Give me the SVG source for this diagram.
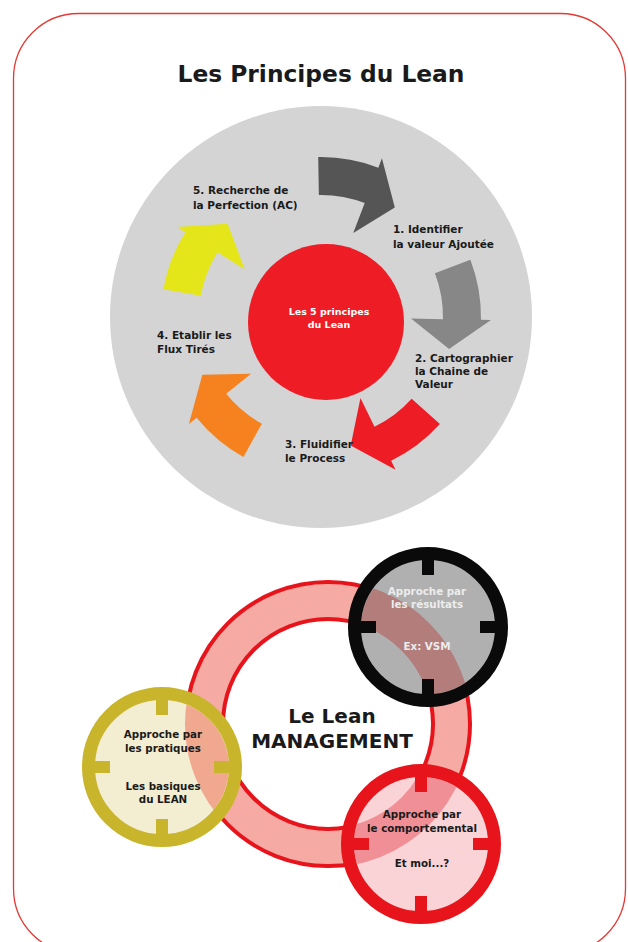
<svg xmlns="http://www.w3.org/2000/svg" xmlns:xlink="http://www.w3.org/1999/xlink" width="628" height="942" viewBox="0 0 628 942">
<style>
.lbl{font-family:"DejaVu Sans","Liberation Sans",sans-serif;font-weight:bold;font-size:10.5px;fill:#1a1a1a}
.ctr{font-family:"DejaVu Sans","Liberation Sans",sans-serif;font-weight:bold;font-size:9.5px;fill:#ffffff;text-anchor:middle}
.sm{font-family:"DejaVu Sans","Liberation Sans",sans-serif;font-weight:bold;font-size:10.3px;fill:#1a1a1a;text-anchor:middle}
.smw{font-family:"DejaVu Sans","Liberation Sans",sans-serif;font-weight:bold;font-size:10.3px;fill:#ececec;text-anchor:middle}
.big{font-family:"DejaVu Sans","Liberation Sans",sans-serif;font-weight:bold;font-size:20px;fill:#1a1a1a;text-anchor:middle}
.tick{stroke:none}
</style>
<defs>
<path id="arr" d="M160,0 A160,160 0 0 1 148.35,59.94 L157.62,63.68 L108.13,75.71 L83.45,33.71 L113.12,45.70 A122,122 0 0 0 122,0 Z"/>
<clipPath id="cBlack"><circle cx="428" cy="627" r="67"/></clipPath>
<clipPath id="cYellow"><circle cx="162" cy="767" r="67"/></clipPath>
<clipPath id="cRed"><circle cx="421" cy="844" r="67"/></clipPath>
</defs>

<rect x="13.5" y="13.5" width="612" height="940" rx="65" ry="65" fill="#ffffff" stroke="#e53935" stroke-width="1.3"/>

<g id="title">
<text x="321" y="82" font-family="DejaVu Sans, Liberation Sans, sans-serif" font-weight="bold" font-size="23" fill="#1a1a1a" text-anchor="middle" textLength="287" lengthAdjust="spacingAndGlyphs">Les Principes du Lean</text>
</g>

<g id="principles-disc">
<circle cx="321" cy="317" r="211" fill="#d4d4d4"/>
</g>

<g id="center">
<circle cx="326" cy="322" r="78" fill="#ee1c25"/>
<text class="ctr" x="329" y="315">Les 5 principes</text>
<text class="ctr" x="329" y="328">du Lean</text>
</g>

<g id="connectors">
<use xlink:href="#arr" transform="translate(321 317) rotate(-91)" fill="#555555"/>
<use xlink:href="#arr" transform="translate(321 317) rotate(-21)" fill="#878787"/>
<use xlink:href="#arr" transform="translate(321 317) rotate(42)" fill="#ee1c25"/>
<use xlink:href="#arr" transform="translate(321 317) rotate(119)" fill="#f5821f"/>
<use xlink:href="#arr" transform="translate(321 317) rotate(190)" fill="#e5e619"/>
</g>

<g id="step1">
<text class="lbl" x="393" y="233">1. Identifier</text>
<text class="lbl" x="393" y="248">la valeur Ajoutée</text>
</g>
<g id="step2">
<text class="lbl" x="415" y="362">2. Cartographier</text>
<text class="lbl" x="415" y="375">la Chaine de</text>
<text class="lbl" x="415" y="388">Valeur</text>
</g>
<g id="step3">
<text class="lbl" x="285" y="448">3. Fluidifier</text>
<text class="lbl" x="285" y="462">le Process</text>
</g>
<g id="step4">
<text class="lbl" x="157" y="339">4. Etablir les</text>
<text class="lbl" x="157" y="353">Flux Tirés</text>
</g>
<g id="step5">
<text class="lbl" x="193" y="194">5. Recherche de</text>
<text class="lbl" x="193" y="209">la Perfection (AC)</text>
</g>

<g id="lean-ring">
<circle cx="328" cy="724" r="123.5" fill="none" stroke="#f5aaa3" stroke-width="37"/>
<circle cx="328" cy="724" r="105" fill="none" stroke="#e8141c" stroke-width="4"/>
<circle cx="328" cy="724" r="142" fill="none" stroke="#e8141c" stroke-width="4"/>
<text class="big" x="332" y="723">Le Lean</text>
<text class="big" x="332" y="748">MANAGEMENT</text>
</g>

<g id="approche-resultats">
<circle cx="428" cy="627" r="70" fill="#b0b0b0"/>
<g clip-path="url(#cBlack)"><circle cx="328" cy="724" r="123.5" fill="none" stroke="#b27d7a" stroke-width="39"/></g>
<circle cx="428" cy="627" r="73.5" fill="none" stroke="#0a0a0a" stroke-width="13"/>
<g fill="#0a0a0a">
<rect x="422" y="558" width="12" height="17"/>
<rect x="422" y="679" width="12" height="17"/>
<rect x="359" y="621" width="17" height="12"/>
<rect x="480" y="621" width="17" height="12"/>
</g>
<text class="smw" x="427" y="595">Approche par</text>
<text class="smw" x="427" y="608">les résultats</text>
<text class="smw" x="427" y="650">Ex: VSM</text>
</g>

<g id="approche-pratiques">
<circle cx="162" cy="767" r="70" fill="#f3edd1"/>
<g clip-path="url(#cYellow)"><circle cx="328" cy="724" r="123.5" fill="none" stroke="#f0a98f" stroke-width="39"/></g>
<circle cx="162" cy="767" r="73.5" fill="none" stroke="#c9b52c" stroke-width="13"/>
<g fill="#c9b52c">
<rect x="156" y="698" width="12" height="17"/>
<rect x="156" y="819" width="12" height="17"/>
<rect x="93" y="761" width="17" height="12"/>
<rect x="214" y="761" width="17" height="12"/>
</g>
<text class="sm" x="163" y="738">Approche par</text>
<text class="sm" x="163" y="752">les pratiques</text>
<text class="sm" x="163" y="790">Les basiques</text>
<text class="sm" x="163" y="803">du LEAN</text>
</g>

<g id="approche-comportemental">
<circle cx="421" cy="844" r="70" fill="#f9d3d6"/>
<g clip-path="url(#cRed)"><circle cx="328" cy="724" r="123.5" fill="none" stroke="#f08f95" stroke-width="39"/></g>
<circle cx="421" cy="844" r="73.5" fill="none" stroke="#e8141c" stroke-width="13"/>
<g fill="#e8141c">
<rect x="415" y="775" width="12" height="17"/>
<rect x="415" y="896" width="12" height="17"/>
<rect x="352" y="838" width="17" height="12"/>
<rect x="473" y="838" width="17" height="12"/>
</g>
<text class="sm" x="422" y="818">Approche par</text>
<text class="sm" x="422" y="832">le comportemental</text>
<text class="sm" x="422" y="867">Et moi...?</text>
</g>
</svg>
